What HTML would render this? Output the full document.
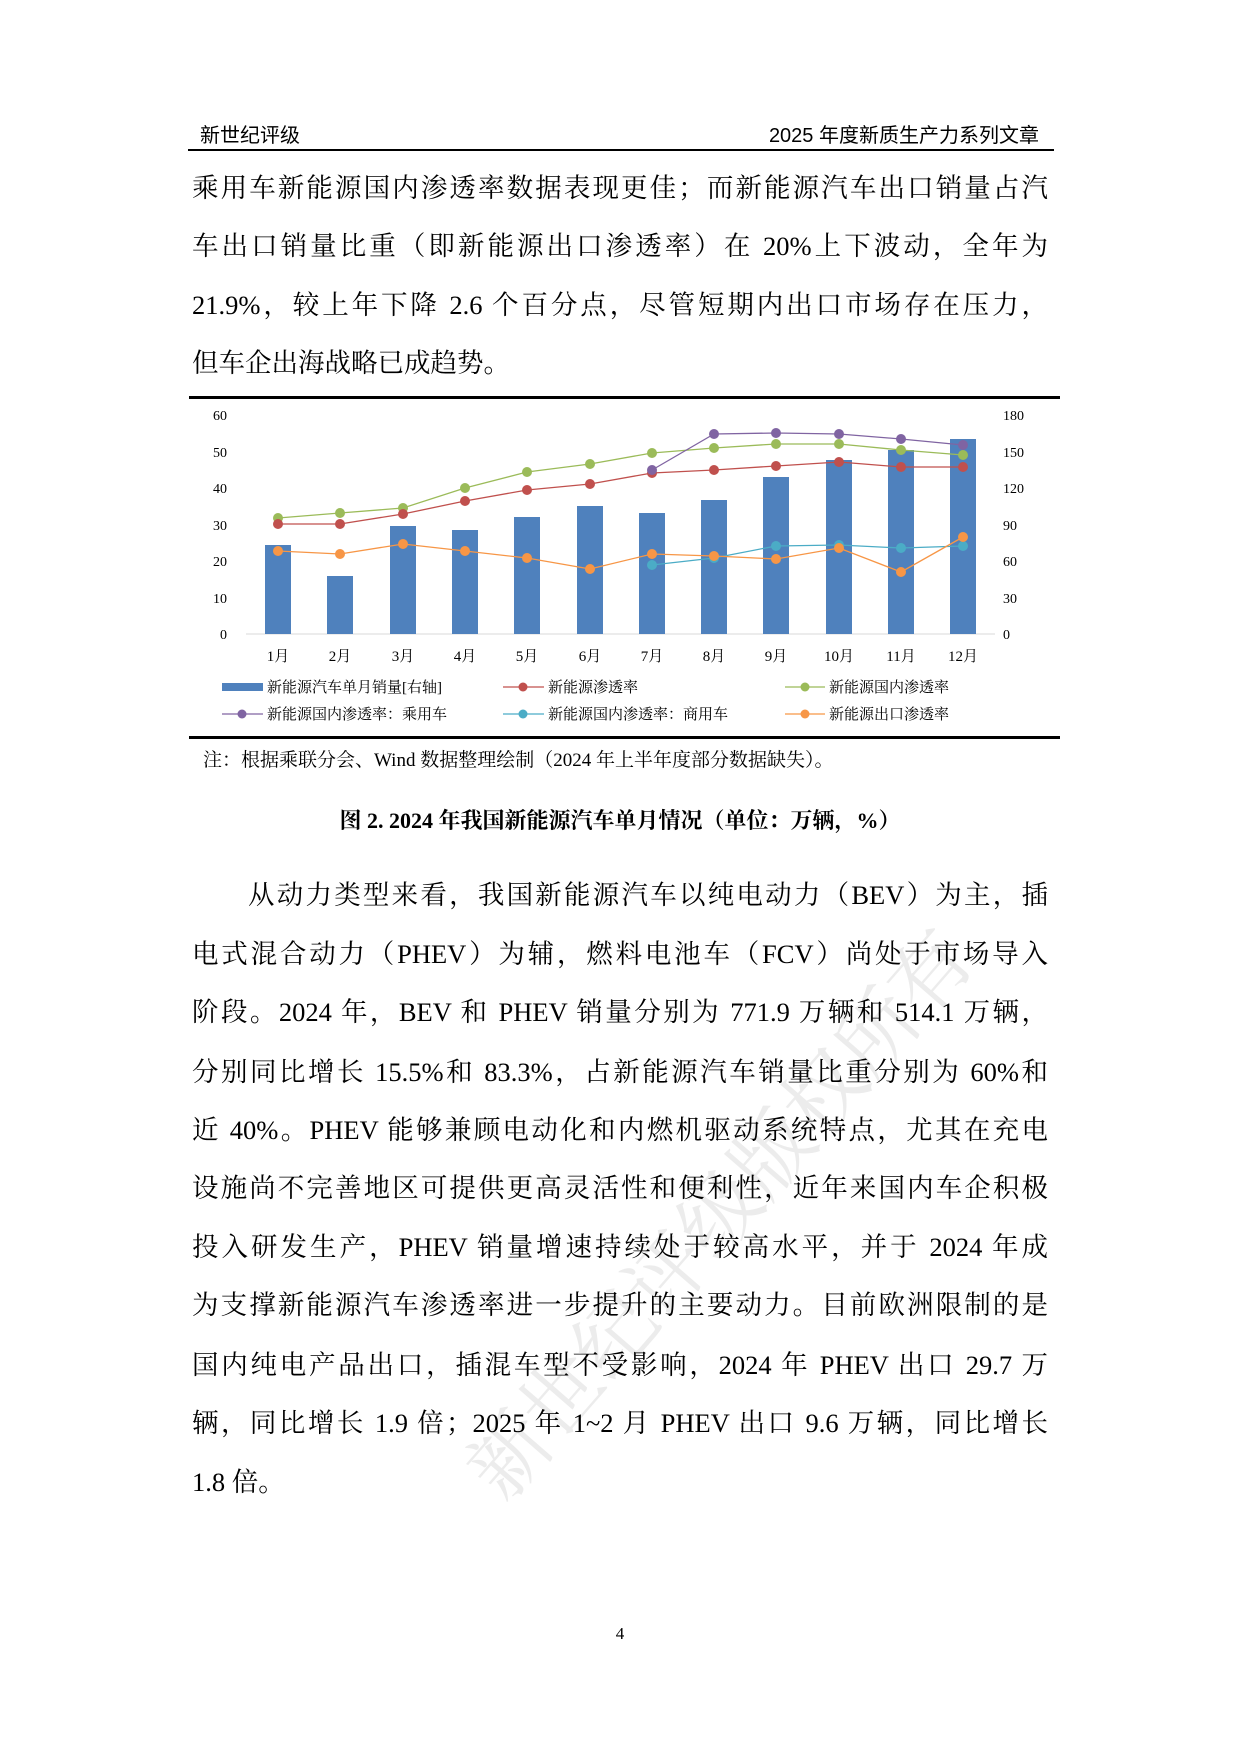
<!DOCTYPE html>
<html><head><meta charset="utf-8">
<style>
body{margin:0;background:#fff;}
#p{position:relative;width:1240px;height:1754px;overflow:hidden;background:#fff;font-family:"Liberation Serif","Noto Serif CJK SC",serif;color:#000;}
.h{position:absolute;top:119px;font-family:"Liberation Sans","Noto Sans CJK SC",sans-serif;font-size:20px;}
.l{position:absolute;left:192px;width:856px;font-size:26.5px;line-height:30px;text-align:justify;text-align-last:justify;white-space:nowrap;}
.nl{text-align-last:left;}
</style></head><body><div id="p">
<div class="h" style="left:200px">新世纪评级</div>
<div class="h" style="right:201px">2025 年度新质生产力系列文章</div>
<div style="position:absolute;left:188px;top:149px;width:866px;height:1.5px;background:#000"></div>

<div class="l" style="top:173px">乘用车新能源国内渗透率数据表现更佳；而新能源汽车出口销量占汽</div>
<div class="l" style="top:231px">车出口销量比重（即新能源出口渗透率）在 20%上下波动，全年为</div>
<div class="l" style="top:290px">21.9%，较上年下降 2.6 个百分点，尽管短期内出口市场存在压力，</div>
<div class="l nl" style="top:348px">但车企出海战略已成趋势。</div>

<div style="position:absolute;left:189px;top:396px;width:871px;height:2.5px;background:#000"></div>
<div style="position:absolute;left:189px;top:736px;width:871px;height:2.5px;background:#000"></div>

<svg style="position:absolute;left:0;top:0" width="1240" height="1754" font-family="Liberation Serif,Noto Serif CJK SC,serif">
<text font-size="80" fill="#ececec" text-anchor="middle" transform="translate(720,1214) rotate(-49)" dy="28">新世纪评级版权所有</text>
<g font-size="14" text-anchor="end">
<text x="227" y="420">60</text><text x="227" y="457">50</text><text x="227" y="493">40</text><text x="227" y="530">30</text><text x="227" y="566">20</text><text x="227" y="603">10</text><text x="227" y="639">0</text>
</g>
<g font-size="14" text-anchor="start">
<text x="1003" y="420">180</text><text x="1003" y="457">150</text><text x="1003" y="493">120</text><text x="1003" y="530">90</text><text x="1003" y="566">60</text><text x="1003" y="603">30</text><text x="1003" y="639">0</text>
</g>
<line x1="246" y1="634" x2="995" y2="634" stroke="#d9d9d9" stroke-width="1"/>
<g fill="#4f81bd">
<rect x="265" y="545" width="26" height="89"/>
<rect x="327" y="576" width="26" height="58"/>
<rect x="390" y="526" width="26" height="108"/>
<rect x="452" y="530" width="26" height="104"/>
<rect x="514" y="517" width="26" height="117"/>
<rect x="577" y="506" width="26" height="128"/>
<rect x="639" y="513" width="26" height="121"/>
<rect x="701" y="500" width="26" height="134"/>
<rect x="763" y="477" width="26" height="157"/>
<rect x="826" y="460" width="26" height="174"/>
<rect x="888" y="450" width="26" height="184"/>
<rect x="950" y="439" width="26" height="195"/>
</g>
<g font-size="15" text-anchor="middle">
<text x="278" y="661">1月</text><text x="340" y="661">2月</text><text x="403" y="661">3月</text><text x="465" y="661">4月</text><text x="527" y="661">5月</text><text x="590" y="661">6月</text><text x="652" y="661">7月</text><text x="714" y="661">8月</text><text x="776" y="661">9月</text><text x="839" y="661">10月</text><text x="901" y="661">11月</text><text x="963" y="661">12月</text>
</g>
<polyline fill="none" stroke="#9bbb59" stroke-width="1.3" points="278,518 340,513 403,508 465,488 527,472 590,464 652,453 714,448 776,444 839,444 901,450 963,455"/>
<g fill="#9bbb59"><circle cx="278" cy="518" r="5"/><circle cx="340" cy="513" r="5"/><circle cx="403" cy="508" r="5"/><circle cx="465" cy="488" r="5"/><circle cx="527" cy="472" r="5"/><circle cx="590" cy="464" r="5"/><circle cx="652" cy="453" r="5"/><circle cx="714" cy="448" r="5"/><circle cx="776" cy="444" r="5"/><circle cx="839" cy="444" r="5"/><circle cx="901" cy="450" r="5"/><circle cx="963" cy="455" r="5"/></g>
<polyline fill="none" stroke="#c0504d" stroke-width="1.3" points="278,524 340,524 403,514 465,501 527,490 590,484 652,473 714,470 776,466 839,462 901,467 963,467"/>
<g fill="#c0504d"><circle cx="278" cy="524" r="5"/><circle cx="340" cy="524" r="5"/><circle cx="403" cy="514" r="5"/><circle cx="465" cy="501" r="5"/><circle cx="527" cy="490" r="5"/><circle cx="590" cy="484" r="5"/><circle cx="652" cy="473" r="5"/><circle cx="714" cy="470" r="5"/><circle cx="776" cy="466" r="5"/><circle cx="839" cy="462" r="5"/><circle cx="901" cy="467" r="5"/><circle cx="963" cy="467" r="5"/></g>
<polyline fill="none" stroke="#8064a2" stroke-width="1.3" points="652,470 714,434 776,433 839,434 901,439 963,445"/>
<g fill="#8064a2"><circle cx="652" cy="470" r="5"/><circle cx="714" cy="434" r="5"/><circle cx="776" cy="433" r="5"/><circle cx="839" cy="434" r="5"/><circle cx="901" cy="439" r="5"/><circle cx="963" cy="445" r="5"/></g>
<polyline fill="none" stroke="#4bacc6" stroke-width="1.3" points="652,565 714,558 776,546 839,545 901,548 963,546"/>
<g fill="#4bacc6"><circle cx="652" cy="565" r="5"/><circle cx="714" cy="558" r="5"/><circle cx="776" cy="546" r="5"/><circle cx="839" cy="545" r="5"/><circle cx="901" cy="548" r="5"/><circle cx="963" cy="546" r="5"/></g>
<polyline fill="none" stroke="#f79646" stroke-width="1.3" points="278,551 340,554 403,544 465,551 527,558 590,569 652,554 714,556 776,559 839,548 901,572 963,537"/>
<g fill="#f79646"><circle cx="278" cy="551" r="5"/><circle cx="340" cy="554" r="5"/><circle cx="403" cy="544" r="5"/><circle cx="465" cy="551" r="5"/><circle cx="527" cy="558" r="5"/><circle cx="590" cy="569" r="5"/><circle cx="652" cy="554" r="5"/><circle cx="714" cy="556" r="5"/><circle cx="776" cy="559" r="5"/><circle cx="839" cy="548" r="5"/><circle cx="901" cy="572" r="5"/><circle cx="963" cy="537" r="5"/></g>
<g font-size="15">
<rect x="222" y="683" width="41" height="8" fill="#4f81bd"/><text x="267" y="692">新能源汽车单月销量[右轴]</text>
<line x1="503" y1="687" x2="544" y2="687" stroke="#c0504d" stroke-width="1.3"/><circle cx="523" cy="687" r="4.5" fill="#c0504d"/><text x="548" y="692">新能源渗透率</text>
<line x1="785" y1="687" x2="825" y2="687" stroke="#9bbb59" stroke-width="1.3"/><circle cx="805" cy="687" r="4.5" fill="#9bbb59"/><text x="829" y="692">新能源国内渗透率</text>
<line x1="222" y1="714" x2="263" y2="714" stroke="#8064a2" stroke-width="1.3"/><circle cx="242" cy="714" r="4.5" fill="#8064a2"/><text x="267" y="719">新能源国内渗透率：乘用车</text>
<line x1="503" y1="714" x2="544" y2="714" stroke="#4bacc6" stroke-width="1.3"/><circle cx="523" cy="714" r="4.5" fill="#4bacc6"/><text x="548" y="719">新能源国内渗透率：商用车</text>
<line x1="785" y1="714" x2="825" y2="714" stroke="#f79646" stroke-width="1.3"/><circle cx="805" cy="714" r="4.5" fill="#f79646"/><text x="829" y="719">新能源出口渗透率</text>
</g>
</svg>

<div style="position:absolute;left:203px;top:745px;font-size:19px;">注：根据乘联分会、Wind 数据整理绘制（2024 年上半年度部分数据缺失）。</div>
<div style="position:absolute;left:0;width:1240px;top:804px;text-align:center;font-size:22px;font-weight:bold;">图 2. 2024 年我国新能源汽车单月情况（单位：万辆，%）</div>

<div class="l" style="top:880px;left:248px;width:800px">从动力类型来看，我国新能源汽车以纯电动力（BEV）为主，插</div>
<div class="l" style="top:939px">电式混合动力（PHEV）为辅，燃料电池车（FCV）尚处于市场导入</div>
<div class="l" style="top:997px">阶段。2024 年，BEV 和 PHEV 销量分别为 771.9 万辆和 514.1 万辆，</div>
<div class="l" style="top:1057px">分别同比增长 15.5%和 83.3%，占新能源汽车销量比重分别为 60%和</div>
<div class="l" style="top:1115px">近 40%。PHEV 能够兼顾电动化和内燃机驱动系统特点，尤其在充电</div>
<div class="l" style="top:1173px">设施尚不完善地区可提供更高灵活性和便利性，近年来国内车企积极</div>
<div class="l" style="top:1232px">投入研发生产，PHEV 销量增速持续处于较高水平，并于 2024 年成</div>
<div class="l" style="top:1290px">为支撑新能源汽车渗透率进一步提升的主要动力。目前欧洲限制的是</div>
<div class="l" style="top:1350px">国内纯电产品出口，插混车型不受影响，2024 年 PHEV 出口 29.7 万</div>
<div class="l" style="top:1408px">辆，同比增长 1.9 倍；2025 年 1~2 月 PHEV 出口 9.6 万辆，同比增长</div>
<div class="l nl" style="top:1467px">1.8 倍。</div>

<div style="position:absolute;left:0;width:1240px;top:1624px;text-align:center;font-size:17px;">4</div>
</div></body></html>
